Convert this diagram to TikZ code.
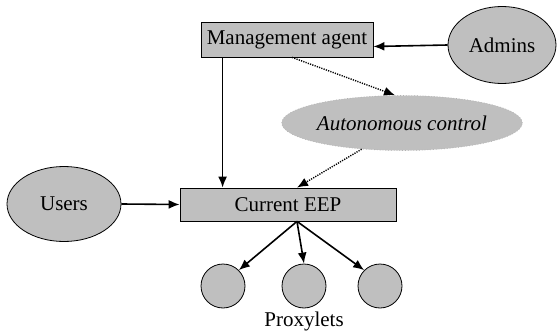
\documentclass[tikz,border=0pt]{standalone}
\usepackage{fontspec}
\setmainfont{Liberation Serif}
\usetikzlibrary{arrows.meta,shapes.geometric}

\definecolor{boxgray}{RGB}{191,191,191}
\tikzset{
  every node/.style={font=\fontsize{21}{25}\selectfont},
  box/.style={draw, fill=boxgray, inner sep=0pt, line width=0.8pt},
  blob/.style={ellipse, draw, fill=boxgray, inner sep=0pt, line width=0.8pt},
  proxy/.style={circle, draw, fill=boxgray, minimum size=44pt, inner sep=0pt, line width=0.8pt},
  link/.style={line width=1.6pt, -{Latex[length=11pt,width=9pt]}},
  ctrl/.style={line width=1.4pt, dash pattern=on 1.2pt off 1.2pt, -{Latex[length=11pt,width=9pt]}}
}

\begin{document}
\begin{tikzpicture}[x=1pt,y=-1pt]
  \useasboundingbox (0,0) rectangle (560,332);

  \node [box, minimum width=172pt, minimum height=35pt] (mgmt) at (287,39.5) {Management agent};
  \node [blob, minimum width=108pt, minimum height=77pt] (admins) at (502,45) {Admins};
  \node [blob, draw=gray!60, dotted, line width=0.6pt, minimum width=220pt, minimum height=55pt] (auto) at (402,123) {\itshape Autonomous control};
  \node [blob, minimum width=114pt, minimum height=75pt] (users) at (64,204) {Users};
  \node [box, minimum width=216pt, minimum height=33pt] (eep) at (288,204.5) {Current EEP};

  \foreach \n/\x in {p1/223, p2/304, p3/380}
    \node [proxy] (\n) at (\x,286) {};
  \node (proxylets) at (304,321) {Proxylets};

  %% solid links
  \draw [link] (admins.west) -- ([yshift=-7pt]mgmt.east);
  \draw [link] ([xshift=22pt]mgmt.south west) -- ([xshift=22pt]mgmt.south west |- eep.north);
  \draw [link] (users.east) -- (eep.west);
  \draw [link] ([xshift=9pt]eep.south) -- (p1.north east);
  \draw [link] ([xshift=9pt]eep.south) -- (p2.north);
  \draw [link] ([xshift=9pt]eep.south) -- (p3.north west);

  %% autonomous control loop
  \draw [ctrl] ([xshift=5pt]mgmt.south) -- ([xshift=-7pt]auto.north);
  \draw [ctrl] (auto.213) -- ([xshift=9pt]eep.north);

\end{tikzpicture}
\end{document}
